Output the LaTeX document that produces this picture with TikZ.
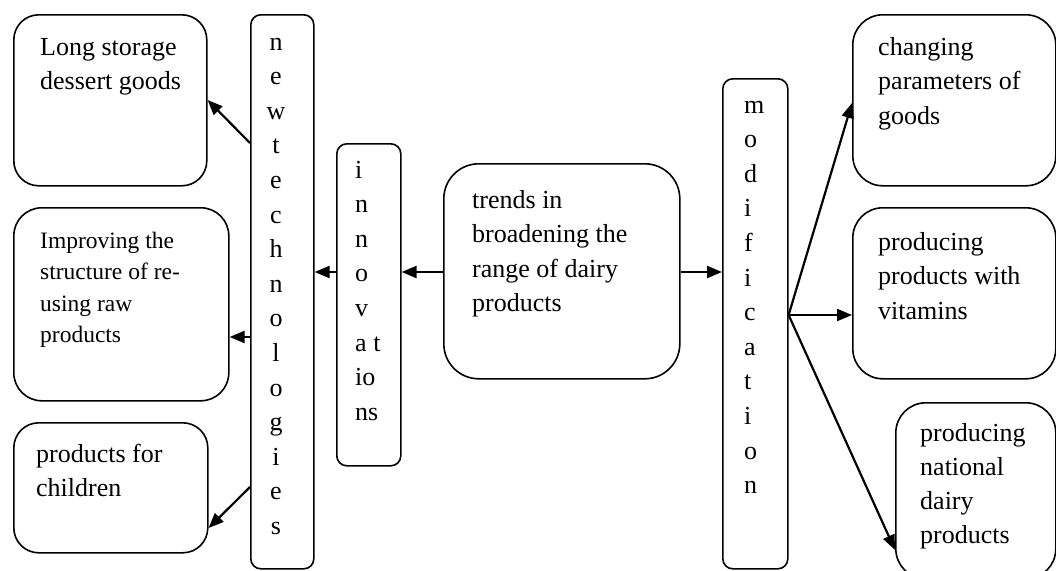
\documentclass[tikz,border=0pt]{standalone}
\usepackage{fontspec}
\setmainfont{Liberation Serif}
\usetikzlibrary{arrows.meta,calc}
\begin{document}
\begin{tikzpicture}[x=1pt,y=-1pt,
  box/.style={draw, line width=1.6pt, rounded corners=#1, inner sep=0pt, anchor=north west},
  box/.default=25pt,
  txt/.style={inner sep=0pt, anchor=base west, align=left, font=\fontsize{26}{34.6}\selectfont},
  smalltxt/.style={txt, font=\fontsize{23.5}{31.5}\selectfont},
  arr/.style={line width=2.2pt, -{Triangle[length=15pt,width=12pt]}}]
\useasboundingbox (0,0) rectangle (1056,570);
% left boxes
\node[box, minimum width=193pt, minimum height=171pt] (A) at (13,14) {};
\node[box=28pt, minimum width=215pt, minimum height=193pt] (B) at (13,207) {};
\node[box, minimum width=194pt, minimum height=130pt] (C) at (13,422) {};
\node[txt] (At) at (40,89.6) {Long storage\\dessert goods};
\node[smalltxt] (Bt) at (40,342.5) {Improving the\\structure of re-\\using raw\\products};
\node[txt] (Ct) at (36,496.6) {products for\\children};
% bars
\node[box=10pt, minimum width=63pt, minimum height=554pt] (NT) at (250,14) {};
\node[txt, anchor=base, align=center] (NTt) at (276,534.4) {n\\e\\w\\t\\e\\c\\h\\n\\o\\l\\o\\g\\i\\e\\s};
\node[box=10pt, minimum width=64pt, minimum height=322pt] (INN) at (336,143) {};
\node[txt] (INNt) at (355,420.2) {i\\n\\n\\o\\v\\a t\\io\\ns};
\node[box=35pt, minimum width=236pt, minimum height=215pt] (TR) at (443,163) {};
\node[txt] (TRt) at (472,311.8) {trends in\\broadening the\\range of dairy\\products};
\node[box=10pt, minimum width=65pt, minimum height=490pt] (MOD) at (722,78) {};
\node[txt] (MODt) at (744,493.6) {m\\o\\d\\i\\f\\i\\c\\a\\t\\i\\o\\n};
% right boxes
\node[box=30pt, minimum width=203pt, minimum height=171pt] (P) at (852,14) {};
\node[box=30pt, minimum width=203pt, minimum height=171pt] (V) at (852,207) {};
\node[box=30pt, minimum width=160pt, minimum height=176pt] (N) at (895,402) {};
\node[txt] (Pt) at (878,124.2) {changing\\parameters of\\goods};
\node[txt] (Vt) at (878,319.2) {producing\\products with\\vitamins};
\node[txt, font=\fontsize{26}{33.7}\selectfont] (Nt) at (920,543) {producing\\national\\dairy\\products};
% connectors
\coordinate (fan) at (MOD.east |- 0,315);
\draw[arr] (NT.west |- 0,143) -- (A.east |- 0,100);
\draw[arr] (NT.west |- 0,337) -- (B.east |- 0,337);
\draw[arr] (NT.west |- 0,487) -- (C.east |- 0,528);
\draw[arr] (INN.west |- 0,272) -- (NT.east |- 0,272);
\draw[arr] (TR.west |- 0,272) -- (INN.east |- 0,272);
\draw[arr] (TR.east |- 0,272) -- (MOD.west |- 0,272);
\draw[arr] (fan) -- (P.west |- 0,103);
\draw[arr] (fan) -- (V.west |- 0,315);
\draw[arr] (fan) -- (N.west |- 0,550);
\end{tikzpicture}
\end{document}
